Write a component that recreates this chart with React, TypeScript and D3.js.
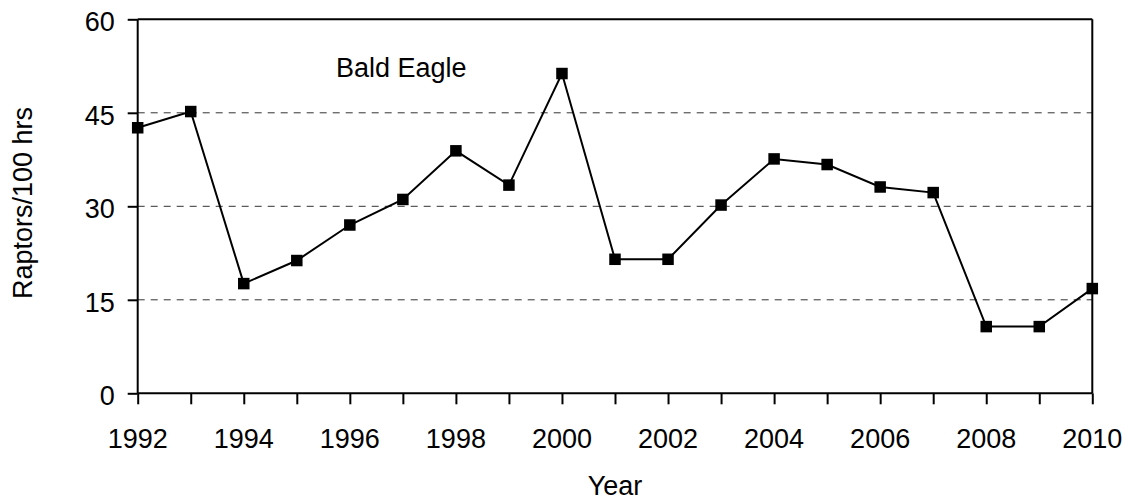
import React, { useEffect, useRef } from "react";
import * as d3 from "d3";

const years = [1992, 1993, 1994, 1995, 1996, 1997, 1998, 1999, 2000, 2001, 2002, 2003, 2004, 2005, 2006, 2007, 2008, 2009, 2010];
const baldEagle = [42.6, 45.2, 17.6, 21.3, 27.0, 31.1, 38.9, 33.4, 51.3, 21.5, 21.5, 30.2, 37.6, 36.7, 33.1, 32.2, 10.7, 10.7, 16.8];
const yTicks = [0, 15, 30, 45, 60];
const gridValues = [15, 30, 45];
const xLabelYears = [1992, 1994, 1996, 1998, 2000, 2002, 2004, 2006, 2008, 2010];

const FONT = "'Liberation Sans', Arial, sans-serif";

const App = () => {
  const ref = useRef<SVGSVGElement>(null);

  useEffect(() => {
    const width = 1131;
    const height = 502;
    const margin = { top: 19.3, right: 38.7, bottom: 108.7, left: 137.7 };
    const svg = d3.select(ref.current);
    svg.selectAll("*").remove();

    const innerW = width - margin.left - margin.right;
    const innerH = height - margin.top - margin.bottom;

    const x = d3.scaleLinear().domain([1992, 2010]).range([0, innerW]);
    const y = d3.scaleLinear().domain([0, 60]).range([innerH, 0]);

    const g = svg.append("g").attr("transform", `translate(${margin.left},${margin.top})`);

    // dashed grid lines
    g.selectAll(".grid")
      .data(gridValues)
      .enter()
      .append("line")
      .attr("x1", 0)
      .attr("x2", innerW)
      .attr("y1", (d) => y(d))
      .attr("y2", (d) => y(d))
      .attr("stroke", "#333")
      .attr("stroke-width", 1)
      .attr("stroke-dasharray", "7,6");

    // frame top and right
    g.append("line").attr("x1", 0).attr("x2", innerW).attr("y1", 0).attr("y2", 0)
      .attr("stroke", "#000").attr("stroke-width", 2);
    g.append("line").attr("x1", innerW).attr("x2", innerW).attr("y1", 0).attr("y2", innerH)
      .attr("stroke", "#000").attr("stroke-width", 2);

    // x axis
    const xAxis = g.append("g")
      .attr("transform", `translate(0,${innerH})`)
      .call(d3.axisBottom(x).tickValues(years).tickSize(11).tickFormat(() => ""));
    xAxis.select(".domain").attr("stroke-width", 2).attr("d", `M0,0H${innerW}`);
    xAxis.selectAll(".tick line").attr("stroke-width", 2);

    g.selectAll(".xlabel")
      .data(xLabelYears)
      .enter()
      .append("text")
      .attr("x", (d) => x(d))
      .attr("y", innerH + 55)
      .attr("text-anchor", "middle")
      .attr("font-family", FONT)
      .attr("font-size", 27)
      .attr("fill", "#000")
      .text((d) => d);

    // y axis
    const yAxis = g.append("g")
      .call(d3.axisLeft(y).tickValues(yTicks).tickSize(10).tickFormat(() => ""));
    yAxis.select(".domain").attr("stroke-width", 2).attr("d", `M0,${innerH}V0`);
    yAxis.selectAll(".tick line").attr("stroke-width", 2);

    g.selectAll(".ylabel")
      .data(yTicks)
      .enter()
      .append("text")
      .attr("x", -23)
      .attr("y", (d) => y(d) + 12)
      .attr("text-anchor", "end")
      .attr("font-family", FONT)
      .attr("font-size", 27)
      .attr("fill", "#000")
      .text((d) => d);

    // line
    const line = d3.line<number>()
      .x((_, i) => x(years[i]))
      .y((d) => y(d));
    g.append("path")
      .datum(baldEagle)
      .attr("d", line)
      .attr("fill", "none")
      .attr("stroke", "#000")
      .attr("stroke-width", 2);

    // square markers
    const s = 11.5;
    g.selectAll(".marker")
      .data(baldEagle)
      .enter()
      .append("rect")
      .attr("x", (_, i) => x(years[i]) - s / 2)
      .attr("y", (d) => y(d) - s / 2)
      .attr("width", s)
      .attr("height", s)
      .attr("fill", "#000");

    // series label
    g.append("text")
      .attr("x", 336 - margin.left)
      .attr("y", 77 - margin.top)
      .attr("font-family", FONT)
      .attr("font-size", 27)
      .attr("fill", "#000")
      .text("Bald Eagle");

    // axis titles
    svg.append("text")
      .attr("x", margin.left + innerW / 2)
      .attr("y", 495)
      .attr("text-anchor", "middle")
      .attr("font-family", FONT)
      .attr("font-size", 27)
      .attr("fill", "#000")
      .text("Year");

    svg.append("text")
      .attr("transform", "translate(31.5,203) rotate(-90)")
      .attr("text-anchor", "middle")
      .attr("font-family", FONT)
      .attr("font-size", 27)
      .attr("fill", "#000")
      .text("Raptors/100 hrs");
  }, []);

  return (
    <svg
      ref={ref}
      width={1131}
      height={502}
      style={{ position: "absolute", left: 0, top: 0, background: "#fff" }}
    />
  );
};

export default App;
